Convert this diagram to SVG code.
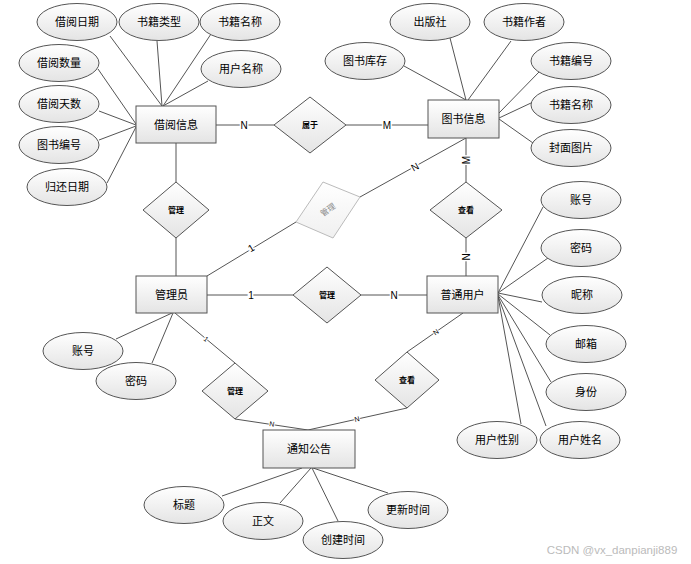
<svg xmlns="http://www.w3.org/2000/svg" width="691" height="564" viewBox="0 0 691 564">
<defs>
<linearGradient id="g" x1="0" y1="0" x2="0" y2="1">
<stop offset="0" stop-color="#ffffff"/>
<stop offset="1" stop-color="#e4e4e4"/>
</linearGradient>
<linearGradient id="gl" x1="0" y1="0" x2="0" y2="1">
<stop offset="0" stop-color="#ffffff"/>
<stop offset="1" stop-color="#f0f0f0"/>
</linearGradient>
</defs>
<style>
text{font-family:"Liberation Sans","Noto Sans CJK SC",sans-serif;fill:#000;text-anchor:middle;dominant-baseline:central}
.e{fill:url(#g);stroke:#555;stroke-width:1}
.a{font-size:11px}
.r{font-size:8px;font-weight:bold}
.c line{stroke:#555;stroke-width:1}
.l{font-size:10px;paint-order:stroke;stroke:#fff;stroke-width:3px}
.s{font-size:7px;paint-order:stroke;stroke:#fff;stroke-width:2px}
</style>
<rect width="691" height="564" fill="#fff"/>
<g id="connectors" class="c">
<line x1="110" y1="36" x2="162" y2="106"/>
<line x1="157" y1="41" x2="162" y2="106"/>
<line x1="211" y1="34" x2="163" y2="106"/>
<line x1="208" y1="81" x2="163" y2="106"/>
<line x1="98" y1="69" x2="136" y2="124"/>
<line x1="99" y1="111" x2="136" y2="125"/>
<line x1="99" y1="140" x2="136" y2="126"/>
<line x1="107" y1="183" x2="136" y2="127"/>
<line x1="450" y1="38" x2="466" y2="100"/>
<line x1="511" y1="41" x2="468" y2="100"/>
<line x1="404" y1="66" x2="466" y2="100"/>
<line x1="539" y1="72" x2="499" y2="113"/>
<line x1="531" y1="103" x2="499" y2="118"/>
<line x1="533" y1="143" x2="499" y2="119"/>
<line x1="216" y1="125" x2="274" y2="125"/>
<line x1="346" y1="125" x2="428" y2="125"/>
<line x1="176" y1="143" x2="176" y2="182"/>
<line x1="176" y1="238" x2="176" y2="276"/>
<line x1="207" y1="276" x2="296" y2="222"/>
<line x1="360" y1="197" x2="466" y2="138"/>
<line x1="466" y1="138" x2="466" y2="182"/>
<line x1="466" y1="238" x2="466" y2="276"/>
<line x1="207" y1="295" x2="293" y2="295"/>
<line x1="361" y1="295" x2="427" y2="295"/>
<line x1="175" y1="313" x2="235" y2="363"/>
<line x1="235" y1="419" x2="308" y2="430"/>
<line x1="463" y1="313" x2="407" y2="352"/>
<line x1="407" y1="408" x2="308" y2="430"/>
<line x1="116" y1="339" x2="172" y2="313"/>
<line x1="152" y1="363" x2="173" y2="313"/>
<line x1="222" y1="496" x2="302" y2="468"/>
<line x1="280" y1="503" x2="311" y2="468"/>
<line x1="338" y1="521" x2="312" y2="468"/>
<line x1="388" y1="493" x2="313" y2="468"/>
<line x1="543" y1="207" x2="498" y2="293"/>
<line x1="548" y1="258" x2="498" y2="293"/>
<line x1="542" y1="302" x2="498" y2="293"/>
<line x1="550" y1="335" x2="498" y2="294"/>
<line x1="551" y1="382" x2="498" y2="295"/>
<line x1="546" y1="426" x2="498" y2="296"/>
<line x1="521" y1="424" x2="498" y2="296"/>
<text class="l" x="244" y="125">N</text>
<text class="l" x="387" y="125">M</text>
<text class="l" transform="translate(251,248) rotate(-31)">1</text>
<text class="l" transform="translate(415,167) rotate(-29)">N</text>
<text class="l" transform="translate(466,160) rotate(-90)">M</text>
<text class="l" transform="translate(466,257) rotate(-90)">N</text>
<text class="l" x="251" y="295">1</text>
<text class="l" x="394" y="295">N</text>
<text class="s" transform="translate(206,339) rotate(40)">1</text>
<text class="s" transform="translate(272,424) rotate(9)">N</text>
<text class="s" transform="translate(436,332) rotate(-35)">N</text>
<text class="s" transform="translate(357,419) rotate(-12)">N</text>
</g>
<g id="jieyue"><rect class="e" x="136" y="106" width="80" height="37"/><text class="a" x="176" y="125">借阅信息</text></g>
<g id="tushu"><rect class="e" x="428" y="100" width="71" height="38"/><text class="a" x="463.5" y="119">图书信息</text></g>
<g id="guanliyuan"><rect class="e" x="136" y="276" width="71" height="37"/><text class="a" x="171.5" y="295">管理员</text></g>
<g id="putong"><rect class="e" x="427" y="276" width="71" height="37"/><text class="a" x="462.5" y="295">普通用户</text></g>
<g id="tongzhi"><rect class="e" x="263" y="430" width="92" height="38"/><text class="a" x="309" y="449">通知公告</text></g>
<g id="r-shuyu"><polygon class="e" points="310,97 346,125 310,153 274,125"/><text class="r" x="310" y="125">属于</text></g>
<g id="r-guanli1"><polygon class="e" points="176,182 209,210 176,238 143,210"/><text class="r" x="176" y="210">管理</text></g>
<g id="r-guanli-gray"><polygon points="323,182 360,197 333,238 296,222" fill="url(#gl)" stroke="#bbb"/><text x="328" y="210" transform="rotate(-35 328 210)" style="font-size:8px;fill:#888">管理</text></g>
<g id="r-chakan1"><polygon class="e" points="466,182 502,210 466,238 430,210"/><text class="r" x="466" y="210">查看</text></g>
<g id="r-guanli2"><polygon class="e" points="327,267 361,295 327,323 293,295"/><text class="r" x="327" y="295">管理</text></g>
<g id="r-guanli3"><polygon class="e" points="235,363 268,391 235,419 202,391"/><text class="r" x="235" y="391">管理</text></g>
<g id="r-chakan2"><polygon class="e" points="407,352 439,380 407,408 375,380"/><text class="r" x="407" y="380">查看</text></g>
<g id="a1"><ellipse class="e" cx="77" cy="22" rx="40" ry="18.5"/><text class="a" x="77" y="22">借阅日期</text></g>
<g id="a2"><ellipse class="e" cx="159" cy="22" rx="40" ry="18.5"/><text class="a" x="159" y="22">书籍类型</text></g>
<g id="a3"><ellipse class="e" cx="240" cy="22" rx="40" ry="18.5"/><text class="a" x="240" y="22">书籍名称</text></g>
<g id="a4"><ellipse class="e" cx="241" cy="69" rx="40" ry="18.5"/><text class="a" x="241" y="69">用户名称</text></g>
<g id="a5"><ellipse class="e" cx="59" cy="63" rx="40" ry="18.5"/><text class="a" x="59" y="63">借阅数量</text></g>
<g id="a6"><ellipse class="e" cx="59" cy="104" rx="40" ry="18.5"/><text class="a" x="59" y="104">借阅天数</text></g>
<g id="a7"><ellipse class="e" cx="59" cy="145" rx="40" ry="18.5"/><text class="a" x="59" y="145">图书编号</text></g>
<g id="a8"><ellipse class="e" cx="67" cy="187" rx="40" ry="18.5"/><text class="a" x="67" y="187">归还日期</text></g>
<g id="b1"><ellipse class="e" cx="430" cy="22" rx="40" ry="18.5"/><text class="a" x="430" y="22">出版社</text></g>
<g id="b2"><ellipse class="e" cx="524" cy="22" rx="40" ry="18.5"/><text class="a" x="524" y="22">书籍作者</text></g>
<g id="b3"><ellipse class="e" cx="365" cy="61" rx="40" ry="18.5"/><text class="a" x="365" y="61">图书库存</text></g>
<g id="b4"><ellipse class="e" cx="571" cy="61" rx="40" ry="18.5"/><text class="a" x="571" y="61">书籍编号</text></g>
<g id="b5"><ellipse class="e" cx="571" cy="105" rx="40" ry="18.5"/><text class="a" x="571" y="105">书籍名称</text></g>
<g id="b6"><ellipse class="e" cx="571" cy="148" rx="40" ry="18.5"/><text class="a" x="571" y="148">封面图片</text></g>
<g id="c1"><ellipse class="e" cx="83" cy="351" rx="40" ry="18.5"/><text class="a" x="83" y="351">账号</text></g>
<g id="c2"><ellipse class="e" cx="136" cy="381" rx="40" ry="18.5"/><text class="a" x="136" y="381">密码</text></g>
<g id="d1"><ellipse class="e" cx="184" cy="505" rx="40" ry="18.5"/><text class="a" x="184" y="505">标题</text></g>
<g id="d2"><ellipse class="e" cx="263" cy="521" rx="40" ry="18.5"/><text class="a" x="263" y="521">正文</text></g>
<g id="d3"><ellipse class="e" cx="343" cy="540" rx="40" ry="18.5"/><text class="a" x="343" y="540">创建时间</text></g>
<g id="d4"><ellipse class="e" cx="408" cy="510" rx="40" ry="18.5"/><text class="a" x="408" y="510">更新时间</text></g>
<g id="e1"><ellipse class="e" cx="581" cy="200" rx="40" ry="18.5"/><text class="a" x="581" y="200">账号</text></g>
<g id="e2"><ellipse class="e" cx="581" cy="248" rx="40" ry="18.5"/><text class="a" x="581" y="248">密码</text></g>
<g id="e3"><ellipse class="e" cx="582" cy="295" rx="40" ry="18.5"/><text class="a" x="582" y="295">昵称</text></g>
<g id="e4"><ellipse class="e" cx="586" cy="344" rx="40" ry="18.5"/><text class="a" x="586" y="344">邮箱</text></g>
<g id="e5"><ellipse class="e" cx="586" cy="392" rx="40" ry="18.5"/><text class="a" x="586" y="392">身份</text></g>
<g id="e6"><ellipse class="e" cx="580" cy="440" rx="40" ry="18.5"/><text class="a" x="580" y="440">用户姓名</text></g>
<g id="e7"><ellipse class="e" cx="497" cy="440" rx="40" ry="18.5"/><text class="a" x="497" y="440">用户性别</text></g>
<text x="612" y="550" style="font-size:11.5px;fill:#bbb">CSDN @vx_danpianji889</text>
</svg>
